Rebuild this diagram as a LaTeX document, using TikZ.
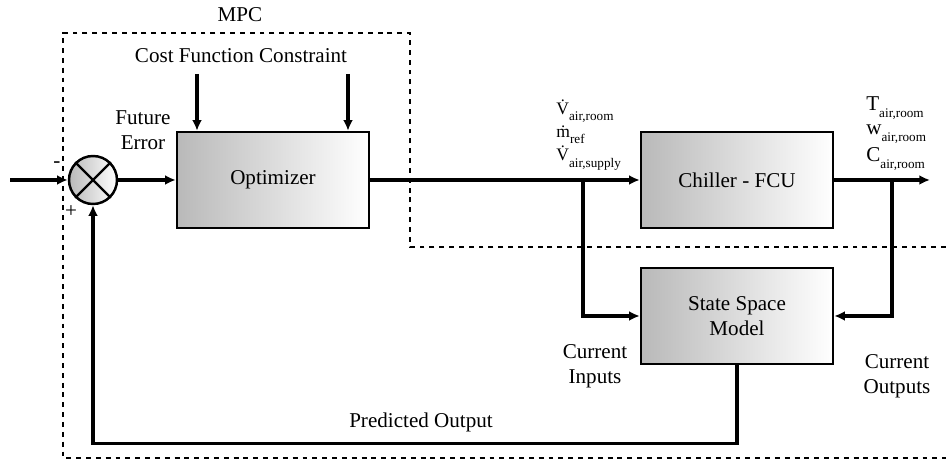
\documentclass[tikz,border=0pt]{standalone}
\usepackage{fontspec}
\setmainfont{Liberation Serif}
\usetikzlibrary{arrows.meta}
\newcommand{\pedice}[1]{\raisebox{-0.75ex}{\fontsize{7.5}{8}\selectfont #1}}
\tikzset{
  blocco/.style  = {rectangle, draw, line width=1.4pt, left color=gray!55, right color=white, minimum width=38.4mm, minimum height=19.2mm, font=\fontsize{12}{14}\selectfont},
  somma/.style   = {circle, draw, line width=1.4pt, left color=gray!55, right color=white, minimum size=9.6mm, inner sep=0},
  link/.style    = {line width=1.9pt},
  freccia/.style = {link, -{Latex[length=6pt,width=5.5pt]}},
  confine/.style = {line width=1.6pt, dash pattern=on 2.8pt off 2.8pt},
  et/.style      = {font=\fontsize{12}{14}\selectfont},
  var/.style     = {font=\fontsize{10}{11}\selectfont, anchor=west, inner sep=0}
}

\begin{document}
\begin{tikzpicture}[x=0.2mm, y=-0.2mm]
  \useasboundingbox (0,0) rectangle (946,466);
  % blocchi
  \node[somma]  (sum) at (93,180) {};
  \node[blocco] (opt) at (273,180) {Optimizer};
  \node[blocco] (ch)  at (737,180) {Chiller - FCU};
  \node[blocco, align=center] (ss) at (737,316) {State Space\\Model};
  \draw[line width=1.4pt] (sum.45)--(sum.225) (sum.135)--(sum.315);
  % punti
  \coordinate (in)  at (10,180);
  \coordinate (out) at (930,180);
  \coordinate (bi)  at (583,180);
  \coordinate (bo)  at (892,180);
  \coordinate (c1)  at (197,74);
  \coordinate (c2)  at (348,74);
  % area MPC
  \draw[confine] (946,247) -- (410,247) -- (410,33) -- (63,33) -- (63,458) -- (946,458);
  % collegamenti
  \draw[freccia] (in) -- (sum);
  \draw[freccia] (sum) -- (opt);
  \draw[freccia] (opt) -- (ch);
  \draw[freccia] (ch) -- (out);
  \draw[freccia] (bi) |- (ss);
  \draw[freccia] (bo) |- (ss);
  \draw[freccia] (ss.south) -- ++(0,78) -| (sum.south);
  \draw[freccia] (c1) -- (c1 |- opt.north);
  \draw[freccia] (c2) -- (c2 |- opt.north);
  % etichette
  \node[et] (mpc)  at (240,15)  {MPC};
  \node[et] (cfc)  at (241,56)  {Cost Function Constraint};
  \node[et, align=center, inner sep=0] (fe) at (143,130) {Future\\Error};
  \node[et] (meno) at (57,165) {-};
  \node[et] (piu)  at (71,212) {+};
  \node[var] (v1) at (556,111) {\.{V}\pedice{air,room}};
  \node[var] (m1) at (556,135) {\.{m}\pedice{ref}};
  \node[var] (v2) at (556,158) {\.{V}\pedice{air,supply}};
  \node[var, font=\fontsize{12}{14}\selectfont] (t1) at (866,108) {T\pedice{air,room}};
  \node[var, font=\fontsize{12}{14}\selectfont] (w1) at (866,134) {w\pedice{air,room}};
  \node[var, font=\fontsize{12}{14}\selectfont] (k1) at (866,159) {C\pedice{air,room}};
  \node[et, align=center, inner sep=0] (ci) at (595,366) {Current\\Inputs};
  \node[et, align=center, inner sep=0] (co) at (897,376) {Current\\Outputs};
  \node[et] (po) at (421,422) {Predicted Output};
\end{tikzpicture}
\end{document}
